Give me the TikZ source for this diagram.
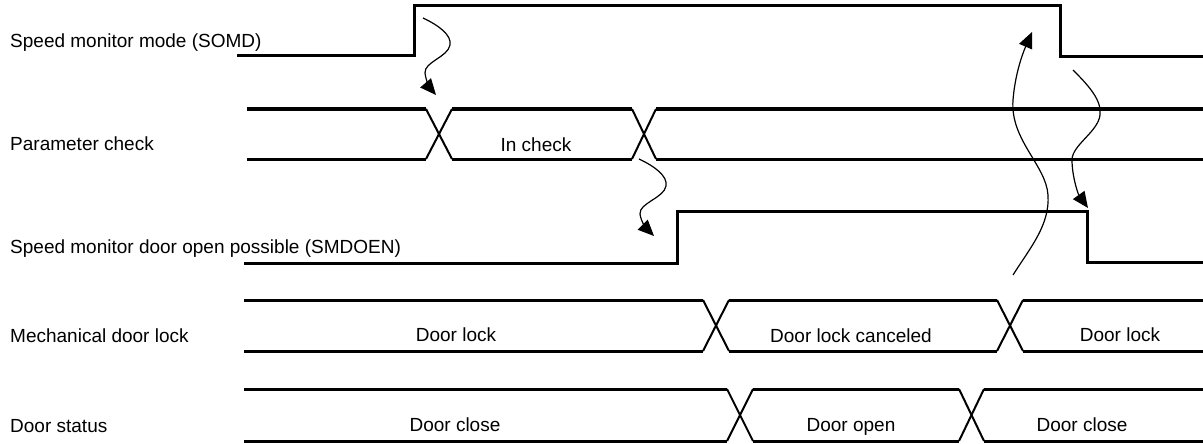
\documentclass[tikz,border=0pt]{standalone}
\usepackage{fontspec}
\setmainfont{Liberation Sans}
\usetikzlibrary{arrows.meta}
\begin{document}
\begin{tikzpicture}[x=1pt,y=-1pt,
  sig/.style={line width=3pt, line join=miter},
  xl/.style={line width=2pt},
  arr/.style={line width=1.2pt, -{Triangle[length=16pt,width=14pt]}},
  lbl/.style={anchor=base west, inner sep=0pt, font=\fontsize{19}{23}\selectfont},
  val/.style={anchor=base, inner sep=0pt, font=\fontsize{19}{23}\selectfont}]
\useasboundingbox (0,0) rectangle (1203,444);

% labels
\node[lbl] (lsomd) at (10,48) {Speed monitor mode (SOMD)};
\node[lbl] (lpar) at (10,150) {Parameter check};
\node[lbl] (lsmd) at (10,253) {Speed monitor door open possible (SMDOEN)};
\node[lbl] (lmech) at (10,342) {Mechanical door lock};
\node[lbl] (ldoor) at (10,432) {Door status};

% SOMD
\draw[sig] (237,56) -- (414,56) -- (414,6) -- (1060,6) -- (1060,57) -- (1203,57);

% Parameter check
\draw[sig] (247,109) -- (426,109);
\draw[sig] (247,159) -- (426,159);
\draw[xl] (426,109) -- (452,159);
\draw[xl] (426,159) -- (452,109);
\draw[sig] (452,109) -- (632,109);
\draw[sig] (452,159) -- (632,159);
\draw[xl] (632,109) -- (656,159);
\draw[xl] (632,159) -- (656,109);
\draw[sig] (656,109) -- (1203,109);
\draw[sig] (656,159) -- (1203,159);
\node[val] (vcheck) at (536,151) {In check};

% SMDOEN
\draw[sig] (244,263) -- (677,263) -- (677,211) -- (1087,211) -- (1087,262) -- (1203,262);

% Mechanical door lock
\draw[sig] (244,300) -- (703,300);
\draw[sig] (244,351) -- (703,351);
\draw[xl] (703,300) -- (729,351);
\draw[xl] (703,351) -- (729,300);
\draw[sig] (729,300) -- (997,300);
\draw[sig] (729,351) -- (997,351);
\draw[xl] (997,300) -- (1023,351);
\draw[xl] (997,351) -- (1023,300);
\draw[sig] (1023,300) -- (1203,300);
\draw[sig] (1023,351) -- (1203,351);
\node[val] (vlock1) at (456,341) {Door lock};
\node[val] (vcanc) at (851,342) {Door lock canceled};
\node[val] (vlock2) at (1120,341) {Door lock};

% Door status
\draw[sig] (244,389) -- (727,389);
\draw[sig] (244,441) -- (727,441);
\draw[xl] (727,389) -- (753,441);
\draw[xl] (727,441) -- (753,389);
\draw[sig] (753,389) -- (959,389);
\draw[sig] (753,441) -- (959,441);
\draw[xl] (959,389) -- (984,441);
\draw[xl] (959,441) -- (984,389);
\draw[sig] (984,389) -- (1203,389);
\draw[sig] (984,441) -- (1203,441);
\node[val] (vclose1) at (455,431) {Door close};
\node[val] (vopen) at (851,431) {Door open};
\node[val] (vclose2) at (1082,431) {Door close};

% wavy arrows
\coordinate (a1s) at (423,18);
\coordinate (a1e) at (436,95);
\draw[arr] (a1s) .. controls (438,25) and (452,35) .. (450,45)
  .. controls (448,57) and (424,62) .. (425,73)
  .. controls (426,81) and (430,88) .. (a1e);

\coordinate (a2s) at (639,159);
\coordinate (a2e) at (654,236);
\draw[arr] (a2s) .. controls (654,166) and (668,176) .. (666,186)
  .. controls (664,198) and (639,203) .. (640,214)
  .. controls (641,222) and (647,229) .. (a2e);

\coordinate (a3s) at (1013,275);
\coordinate (a3e) at (1032,32);
\draw[arr] (a3s) .. controls (1030,248) and (1050,225) .. (1048,195)
  .. controls (1046,165) and (1010,140) .. (1013,100)
  .. controls (1015,75) and (1022,55) .. (a3e);

\coordinate (a4s) at (1073,70);
\coordinate (a4e) at (1088,208);
\draw[arr] (a4s) .. controls (1088,85) and (1102,100) .. (1100,115)
  .. controls (1098,132) and (1072,145) .. (1072,160)
  .. controls (1072,176) and (1078,194) .. (a4e);
\end{tikzpicture}
\end{document}
